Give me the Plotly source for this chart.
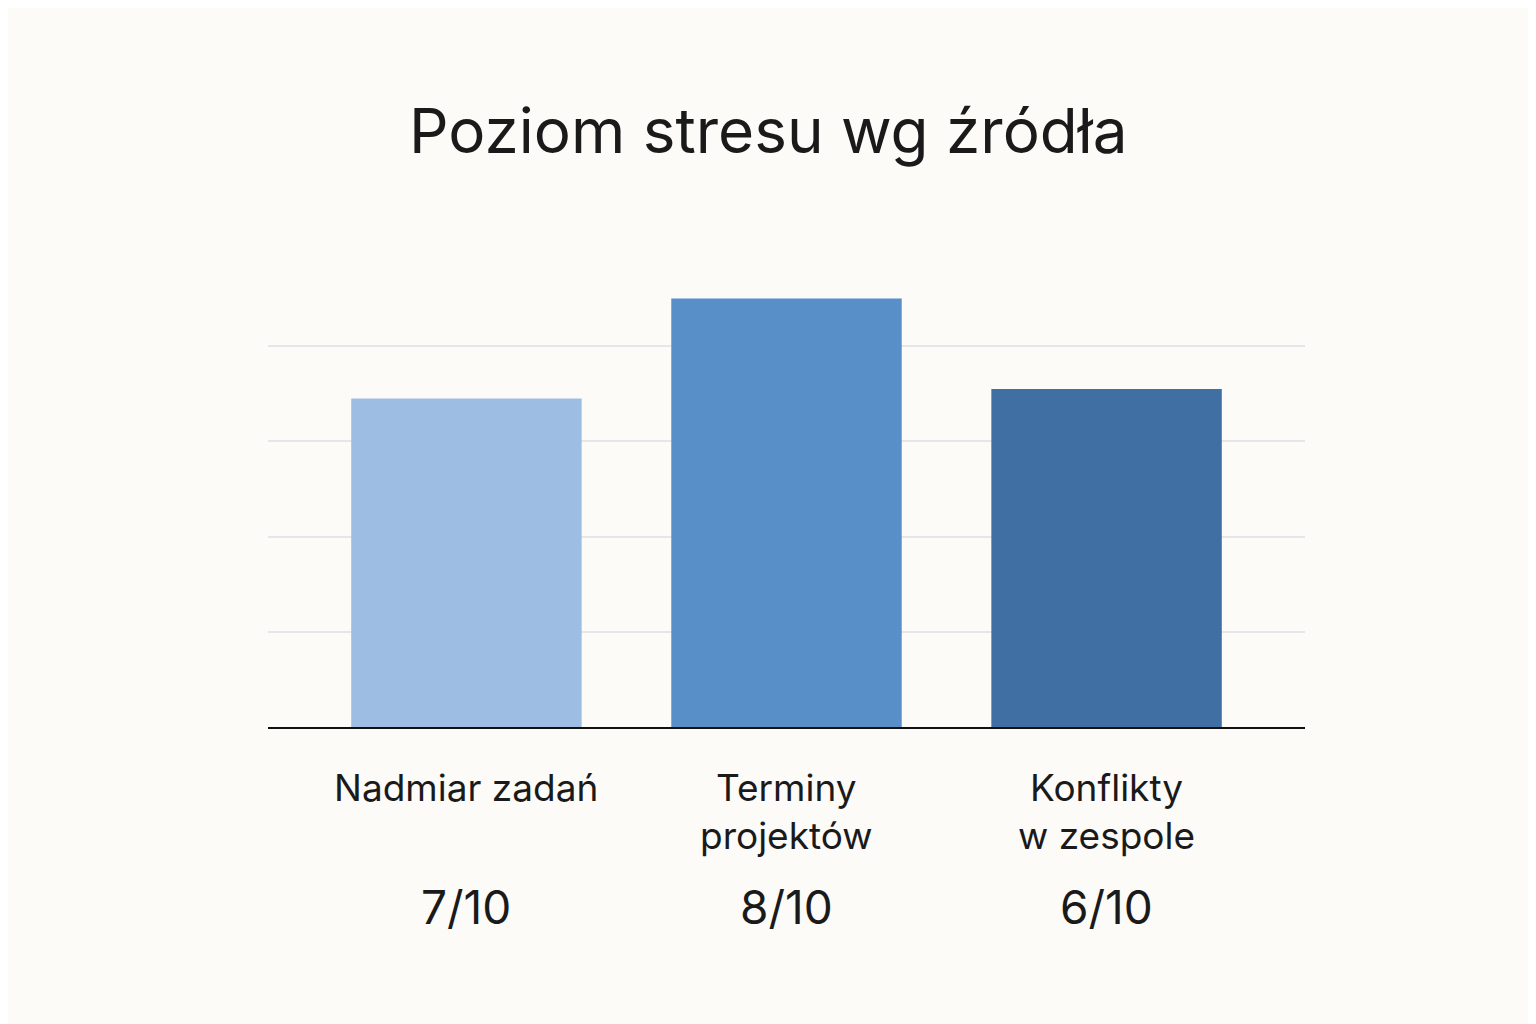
import plotly.graph_objects as go

categories = ["Nadmiar zadań", "Terminy<br>projektów", "Konflikty<br>w zespole"]
values = [6.9, 9.0, 7.1]
score_labels = ["7/10", "8/10", "6/10"]
colors = ["#9dbde3", "#588fc8", "#3f6fa3"]

fig = go.Figure(go.Bar(x=list(range(3)), y=values, marker_color=colors, width=0.72,
                       marker_line_width=0, hoverinfo="skip"))
fig.update_layout(
    width=1536, height=1024, paper_bgcolor="#fcfbf8", plot_bgcolor="#fcfbf8",
    margin=dict(l=260, r=239, t=243, b=305), showlegend=False,
    title=dict(text="Poziom stresu wg źródła", x=0.495, xanchor="center", y=0.88, yanchor="middle",
               font=dict(family="Inter, Noto Sans", size=62, color="#1a1a1a")),
    font=dict(family="Inter, Noto Sans", color="#1a1a1a"),
)
fig.update_xaxes(range=[-0.62, 2.62], showticklabels=False, showgrid=False, zeroline=False,
                 showline=True, linecolor="#111111", linewidth=2)
fig.update_yaxes(range=[0, 10], dtick=2, showticklabels=False, gridcolor="#e3e7ec",
                 gridwidth=1.5, zeroline=False)
for i, (c, s) in enumerate(zip(categories, score_labels)):
    fig.add_annotation(x=i, y=1, yref="paper", text=c, showarrow=False, yanchor="top",
                       yshift=-478 + 0 if False else -0, font=dict(size=37, color="#1a1a1a"))
fig.layout.annotations = []
for i, (c, s) in enumerate(zip(categories, score_labels)):
    fig.add_annotation(x=i, y=0, yref="paper", text=c, showarrow=False, yanchor="top",
                       yshift=-36, font=dict(size=37, color="#1a1a1a"))
    fig.add_annotation(x=i, y=0, yref="paper", text=s, showarrow=False, yanchor="top",
                       yshift=-150, font=dict(size=46, color="#1a1a1a"))
fig.write_html("out.html")
